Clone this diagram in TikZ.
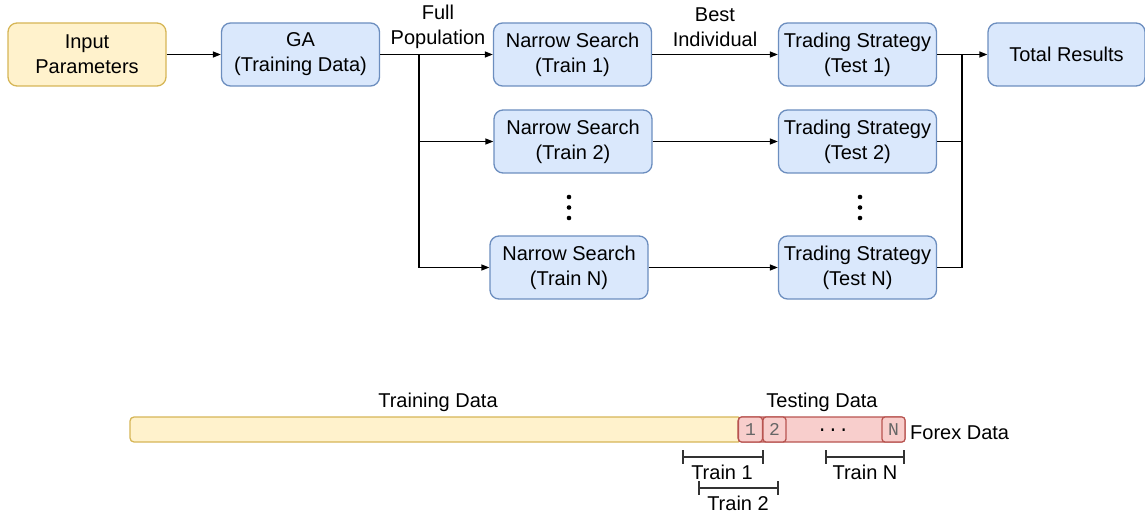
\documentclass[tikz,border=0pt]{standalone}
\usepackage{fontspec}
\setmainfont{Liberation Sans}
\setmonofont{Liberation Mono}
\usetikzlibrary{arrows.meta}
\definecolor{bfill}{HTML}{DAE8FC}
\definecolor{bdraw}{HTML}{6C8EBF}
\definecolor{yfill}{HTML}{FFF2CC}
\definecolor{ydraw}{HTML}{D6B656}
\definecolor{rfill}{HTML}{F8CECC}
\definecolor{rdraw}{HTML}{B85450}
\definecolor{mgray}{HTML}{666666}
\begin{document}
\begin{tikzpicture}[x=1pt,y=-1pt,
  every node/.style={font=\fontsize{20}{25}\selectfont, inner sep=0pt, align=center},
  bluebox/.style={draw=bdraw, fill=bfill, line width=1.3pt, rounded corners=9pt, minimum width=158pt, minimum height=63pt},
  yellowbox/.style={draw=ydraw, fill=yfill, line width=1.3pt, rounded corners=9pt, minimum width=158pt, minimum height=63pt},
  conn/.style={line width=1.4pt, draw=black},
  arr/.style={conn, -{Triangle[length=8pt,width=6pt]}},
  cell/.style={draw=rdraw, fill=rfill, line width=1.3pt, rounded corners=3pt, minimum height=25pt, font=\ttfamily\fontsize{18}{20}\selectfont, text=mgray},
  brk/.style={line width=1.5pt, draw=black!80},
  lbl/.style={font=\fontsize{20}{25}\selectfont}
]
\useasboundingbox (0,0) rectangle (1145,513);
% top row
\node[yellowbox] (inp) at (87,54.5) {Input\\Parameters};
\node[bluebox] (ga) at (300.5,54.5) {GA\\(Training Data)};
\node[bluebox] (ns1) at (572.5,54.5) {Narrow Search\\(Train 1)};
\node[bluebox] (ns2) at (573,141.5) {Narrow Search\\(Train 2)};
\node[bluebox] (nsn) at (569,267.5) {Narrow Search\\(Train N)};
\node[bluebox] (ts1) at (857.5,54.5) {Trading Strategy\\(Test 1)};
\node[bluebox] (ts2) at (857.5,141.5) {Trading Strategy\\(Test 2)};
\node[bluebox] (tsn) at (857.5,267.5) {Trading Strategy\\(Test N)};
\node[bluebox, minimum width=157pt] (tot) at (1066.5,54.5) {Total Results};
% labels
\node[lbl] (fp) at (438,27) {Full\\Population};
\node[lbl] (bi) at (715,27) {Best\\Individual};
% dots
\fill (569,197) circle (2.3pt) (569,207.5) circle (2.3pt) (569,218) circle (2.3pt);
\fill (860,197) circle (2.3pt) (860,207.5) circle (2.3pt) (860,218) circle (2.3pt);
% connectors
\coordinate (J) at (419,54.5);
\coordinate (K) at (962,54.5);
\draw[arr] (inp) -- (ga);
\draw[arr] (ga) -- (ns1);
\draw[arr] (J) |- (ns2.west);
\draw[arr] (J) |- (nsn.west);
\draw[arr] (ns1) -- (ts1);
\draw[arr] (ns2) -- (ts2);
\draw[arr] (nsn) -- (tsn);
\draw[arr] (ts1) -- (tot);
\draw[conn] (ts2.east) -| (K);
\draw[conn] (tsn.east) -| (K);
% bottom data bar
\draw[draw=ydraw, fill=yfill, line width=1.3pt, rounded corners=4pt] (130,417) rectangle (742,442);
\draw[draw=rdraw, fill=rfill, line width=1.3pt, rounded corners=4pt] (738,417) rectangle (905,442);
\node[cell, minimum width=24pt] (c1) at (750.5,429.5) {1};
\node[cell, minimum width=23pt] (c2) at (774.5,429.5) {2};
\node[cell, minimum width=23pt] (cn) at (893.5,429.5) {N};
\node[font=\ttfamily\fontsize{18}{20}\selectfont, text=black] (cd) at (833,430) {...};
\node[lbl] (trd) at (438,402) {Training Data};
\node[lbl] (ted) at (822,402) {Testing Data};
\node[lbl, anchor=west] (fx) at (910,433) {Forex Data};
% brackets
\draw[brk] (683,450) -- (683,464) (683,457) -- (763,457) (763,450) -- (763,464);
\node[lbl] (t1) at (722,472) {Train 1};
\draw[brk] (699,481) -- (699,495) (699,488) -- (778,488) (778,481) -- (778,495);
\node[lbl] (t2) at (738,503) {Train 2};
\draw[brk] (826,450) -- (826,464) (826,457) -- (904,457) (904,450) -- (904,464);
\node[lbl] (tn) at (865,472) {Train N};
\end{tikzpicture}
\end{document}
